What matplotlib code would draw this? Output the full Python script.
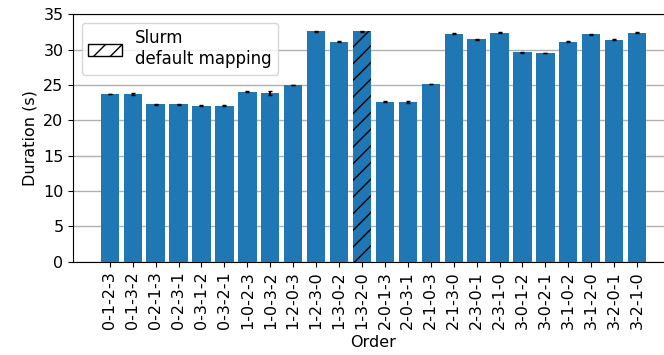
import numpy as np
import matplotlib
matplotlib.use("Agg")
import matplotlib.pyplot as plt
from matplotlib.patches import Patch

ORDERS = ["0-1-2-3", "0-1-3-2", "0-2-1-3", "0-2-3-1", "0-3-1-2", "0-3-2-1",
          "1-0-2-3", "1-0-3-2", "1-2-0-3", "1-2-3-0", "1-3-0-2", "1-3-2-0",
          "2-0-1-3", "2-0-3-1", "2-1-0-3", "2-1-3-0", "2-3-0-1", "2-3-1-0",
          "3-0-1-2", "3-0-2-1", "3-1-0-2", "3-1-2-0", "3-2-0-1", "3-2-1-0"]
DURATION = [23.72, 23.72, 22.25, 22.25, 22.07, 22.08,
            24.05, 23.85, 25.0, 32.57, 31.15, 32.57,
            22.63, 22.6, 25.13, 32.27, 31.45, 32.37,
            29.62, 29.53, 31.13, 32.17, 31.4, 32.37]
ERR = [0.05, 0.15, 0.04, 0.05, 0.04, 0.04,
       0.05, 0.25, 0.04, 0.06, 0.04, 0.1,
       0.05, 0.1, 0.04, 0.05, 0.05, 0.07,
       0.05, 0.05, 0.05, 0.07, 0.04, 0.08]
DEFAULT_ORDER = "1-3-2-0"

plt.rcParams["font.size"] = 11.5
plt.rcParams["hatch.linewidth"] = 1.0

fig = plt.figure(figsize=(6.64, 3.55), dpi=100)
ax = fig.add_axes([0.1104, 0.2628, 0.904, 0.6969])

x = np.arange(len(ORDERS))
bars = ax.bar(x, DURATION, width=0.8, color="#1f77b4", zorder=3,
              yerr=ERR, ecolor="black", capsize=1.5,
              error_kw={"elinewidth": 1.5, "capthick": 1.0})
idx = ORDERS.index(DEFAULT_ORDER)
bars[idx].set_hatch("//")
bars[idx].set_edgecolor("black")
bars[idx].set_linewidth(0)

ax.set_xticks(x)
ax.set_xticklabels(ORDERS, rotation=90)
ax.set_ylim(0, 35)
ax.set_yticks(np.arange(0, 36, 5))
ax.set_xlabel("Order")
ax.set_ylabel("Duration (s)")
ax.grid(True, axis="y", color="#b0b0b0", linewidth=1.0, zorder=0)
ax.set_axisbelow(True)

handle = Patch(facecolor="white", edgecolor="black", hatch="//")
ax.legend([handle], ["Slurm\ndefault mapping"], loc="upper left",
          fontsize=12, handlelength=2.0, borderaxespad=0.5)

fig.savefig("out.png", dpi=100)
